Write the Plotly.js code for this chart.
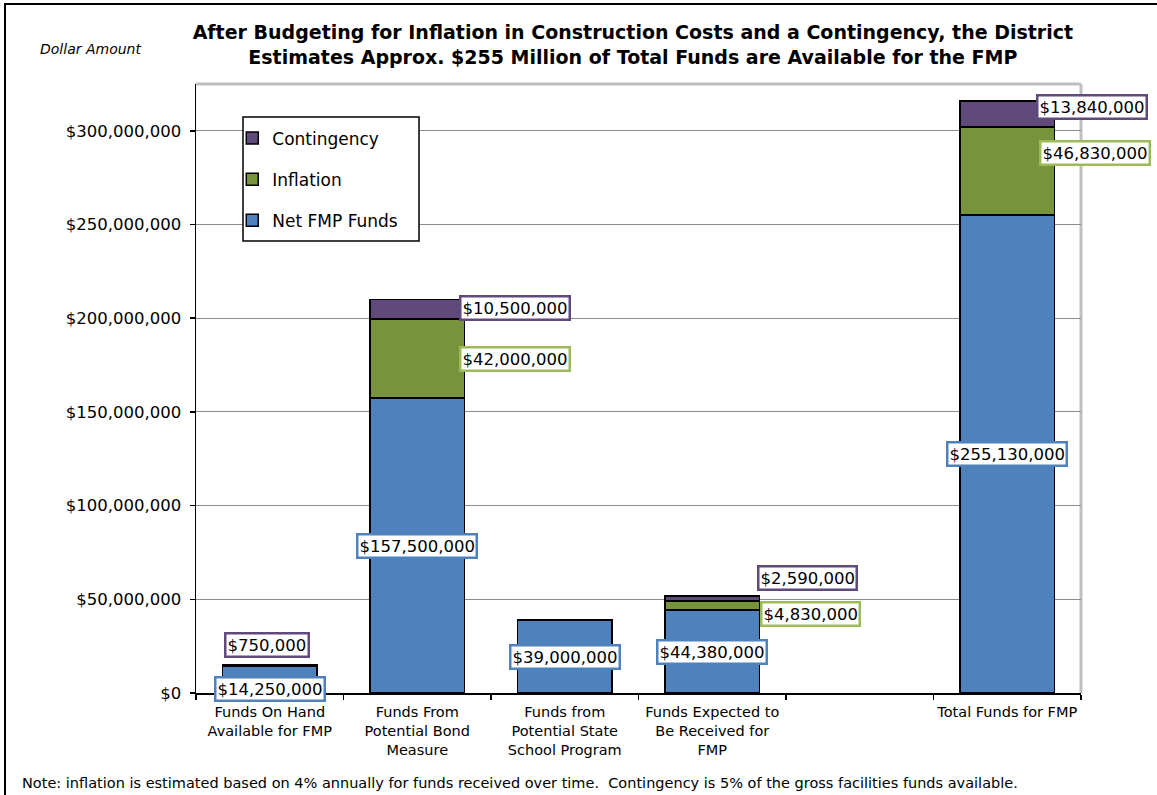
<!DOCTYPE html>
<html>
<head>
<meta charset="utf-8">
<script src="https://cdn.plot.ly/plotly-3.0.1.min.js"></script>
<style>
  html, body { margin: 0; padding: 0; background: #fff; }
  #wrap { position: relative; width: 1157px; height: 795px; overflow: hidden; }
  #chart { width: 1157px; height: 795px; }
  #frame { position: absolute; left: 4px; top: 3px; width: 1200px; height: 900px;
           border-top: 2px solid #000; border-left: 2px solid #000; pointer-events: none; }
</style>
</head>
<body>
<div id="wrap">
  <div id="chart"></div>
  <div id="frame"></div>
</div>
<script>
// ---- data ----
const categories = ['onhand', 'bond', 'state', 'expected', 'blank', 'total'];
const tickLabels = ['Funds On Hand<br>Available for FMP', 'Funds From<br>Potential Bond<br>Measure',
                    'Funds from<br>Potential State<br>School Program', 'Funds Expected to<br>Be Received for<br>FMP',
                    '', 'Total Funds for FMP'];
const netFunds    = [14250000, 157500000, 39000000, 44380000, null, 255130000];
const inflation   = [null, 42000000, null, 4830000, null, 46830000];
const contingency = [750000, 10500000, null, 2590000, null, 13840000];
const yTickVals   = [0, 50000000, 100000000, 150000000, 200000000, 250000000, 300000000];

// ---- styles ----
const FONT = 'DejaVu Sans, sans-serif';
const BLUE = '#4F81BD', GREEN = '#77933C', PURPLE = '#604A7B';
const BLUE_B = '#4F81BD', GREEN_B = '#9BBB59', PURPLE_B = '#604A7B';

function fmt(v) { return '$' + v.toLocaleString('en-US'); }

const traces = [
  { name: 'Net FMP Funds', y: netFunds, color: BLUE, rank: 3 },
  { name: 'Inflation', y: inflation, color: GREEN, rank: 2 },
  { name: 'Contingency', y: contingency, color: PURPLE, rank: 1 }
].map((s, i) => ({
  type: 'bar', name: s.name, x: categories, y: s.y, legendgroup: 'g' + i, legendrank: s.rank,
  marker: { color: s.color, line: { color: '#000', width: 1.5 } },
  hoverinfo: 'skip'
}));

// label placement (pixel offsets relative to segment middle)
const netOff  = { onhand: [0, -9, 'center'], bond: [0, -1, 'center'], state: [0, -1, 'center'], expected: [0, -1, 'center'], total: [0, 0, 'center'] };
const infOff  = { bond: [42, 0, 'left'], expected: [48, -9, 'left'], total: [32, 18, 'left'] };
const conOff  = { onhand: [-3, 21, 'center'], bond: [42, 1, 'left'], expected: [45, 20, 'left'], total: [29, 7, 'left'] };

const annotations = [];
categories.forEach((c, i) => {
  let base = 0;
  [[netFunds, netOff, BLUE_B], [inflation, infOff, GREEN_B], [contingency, conOff, PURPLE_B]].forEach(([arr, off, bc]) => {
    const v = arr[i];
    if (v == null) return;
    const o = off[c];
    if (o) {
      annotations.push({
        x: c, y: base + v / 2, xref: 'x', yref: 'y', text: fmt(v), showarrow: false,
        xanchor: o[2], yanchor: 'middle', xshift: o[0], yshift: o[1],
        bgcolor: '#fff', bordercolor: bc, borderwidth: 2.5, borderpad: 1,
        font: { family: FONT, size: 16.5, color: '#000' }
      });
    }
    base += v;
  });
});

annotations.push({
  xref: 'paper', yref: 'paper', x: -0.178, y: 1.057, xanchor: 'left', yanchor: 'middle',
  text: '<i>Dollar Amount</i>', showarrow: false, font: { family: FONT, size: 14, color: '#000' }
});
annotations.push({
  xref: 'paper', yref: 'paper', x: -0.199, y: -0.148, xanchor: 'left', yanchor: 'middle',
  text: 'Note: inflation is estimated based on 4% annually for funds received over time.&nbsp;&nbsp;Contingency is 5% of the gross facilities funds available.',
  showarrow: false, font: { family: FONT, size: 14.5, color: '#000' }
});

const layout = {
  width: 1157, height: 795,
  margin: { l: 196, r: 76, t: 84, b: 102, pad: 0 },
  paper_bgcolor: '#fff', plot_bgcolor: '#fff',
  barmode: 'stack', bargap: 0.36,
  title: {
    text: '<b>After Budgeting for Inflation in Construction Costs and a Contingency, the District<br>Estimates Approx. $255 Million of Total Funds are Available for the FMP</b>',
    x: 0.547, xanchor: 'center', y: 0.951, yanchor: 'middle',
    font: { family: FONT, size: 19, color: '#000' }
  },
  xaxis: {
    type: 'category', categoryorder: 'array', categoryarray: categories,
    range: [-0.5, 5.5], tickangle: 0,
    tickvals: categories, ticktext: tickLabels,
    tickson: 'boundaries', ticks: 'outside', ticklen: 5, tickcolor: '#000', tickwidth: 1.5,
    ticklabelstandoff: 5,
    showline: true, linecolor: '#000', linewidth: 1.5, showgrid: false,
    tickfont: { family: FONT, size: 14.5, color: '#000' }, fixedrange: true
  },
  yaxis: {
    range: [0, 325000000], tickvals: yTickVals, tickformat: '$,.0f',
    ticks: 'outside', ticklen: 5, tickcolor: '#000', tickwidth: 1.5, ticklabelstandoff: 5,
    showline: true, linecolor: '#000', linewidth: 1.5,
    showgrid: true, gridcolor: '#8C8C8C', gridwidth: 1, zeroline: false,
    tickfont: { family: FONT, size: 16.5, color: '#000' }, fixedrange: true
  },
  legend: {
    x: 0.041, y: 0.94, xanchor: 'left', yanchor: 'top',
    bgcolor: 'rgba(0,0,0,0)', borderwidth: 0,
    traceorder: 'grouped', tracegroupgap: 16,
    font: { family: FONT, size: 17, color: '#000' }
  },
  shapes: [
    { type: 'line', xref: 'paper', yref: 'paper', x0: 0, x1: 1, y0: 1, y1: 1, line: { color: '#BFBFBF', width: 3 }, layer: 'below' },
    { type: 'line', xref: 'paper', yref: 'paper', x0: 1, x1: 1, y0: 0, y1: 1, line: { color: '#BFBFBF', width: 3 }, layer: 'below' },
    { type: 'rect', xref: 'paper', yref: 'paper', x0: 0.0531, x1: 0.252, y0: 0.742, y1: 0.946,
      fillcolor: '#fff', line: { color: '#000', width: 1.5 }, layer: 'above' }
  ],
  annotations: annotations,
  showlegend: true
};

Plotly.newPlot('chart', traces, layout, { displayModeBar: false, staticPlot: true });
</script>
</body>
</html>
